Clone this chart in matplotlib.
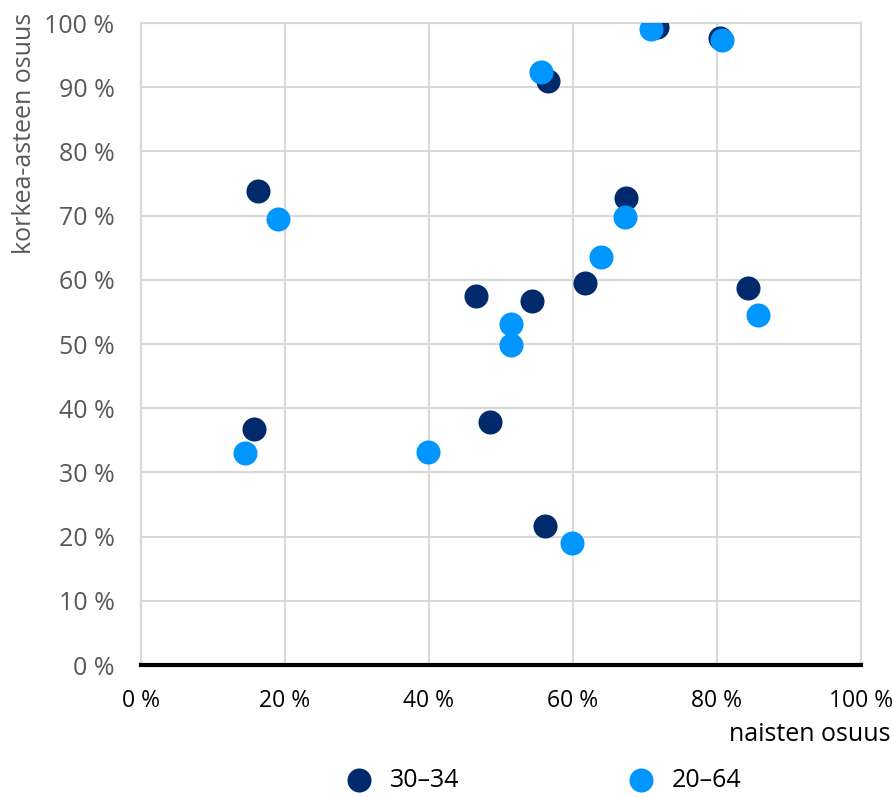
import matplotlib.pyplot as plt
from matplotlib.ticker import FuncFormatter

plt.rcParams['font.family'] = ['Open Sans', 'DejaVu Sans']

# 30-34 ikäiset
x_3034 = [16.3, 15.7, 46.5, 48.5, 54.3, 56.5, 56.1, 61.7, 67.4, 71.7, 80.4, 84.4]
y_3034 = [73.8, 36.8, 57.5, 37.9, 56.7, 91.0, 21.7, 59.5, 72.7, 99.4, 97.7, 58.7]

# 20-64 ikäiset
x_2064 = [14.4, 19.0, 39.9, 51.4, 51.4, 55.6, 59.9, 63.9, 67.2, 70.8, 80.7, 85.7]
y_2064 = [33.0, 69.5, 33.2, 53.1, 49.8, 92.4, 19.0, 63.6, 69.8, 99.1, 97.4, 54.5]

navy = '#002a6c'
blue = '#0096ff'
fs = 18

fig = plt.figure(figsize=(8.92, 7.97), dpi=100)
ax = fig.add_axes([0.158, 0.1656, 0.807, 0.8054])

ax.scatter(x_3034, y_3034, s=300, color=navy, label='30–34', zorder=3, linewidths=0)
ax.scatter(x_2064, y_2064, s=300, color=blue, label='20–64', zorder=4, linewidths=0)

ax.set_xlim(0, 100)
ax.set_ylim(0, 100)
ax.set_xticks(range(0, 101, 20))
ax.set_yticks(range(0, 101, 10))
pct = FuncFormatter(lambda v, p: f'{v:.0f} %')
ax.xaxis.set_major_formatter(pct)
ax.yaxis.set_major_formatter(pct)
ax.grid(True, color='#d9d9d9', linewidth=1.5, zorder=0)
ax.set_axisbelow(True)
for s in ['left', 'right', 'top']:
    ax.spines[s].set_color('#d9d9d9')
    ax.spines[s].set_linewidth(1.5)
ax.spines['bottom'].set_color('black')
ax.spines['bottom'].set_linewidth(3)
ax.spines['bottom'].set_zorder(5)
ax.tick_params(length=0)
ax.tick_params(axis='y', colors='#595959', pad=19, labelsize=fs)
ax.tick_params(axis='x', colors='black', pad=17, labelsize=16.5)

fig.text(0.028, 0.984, 'korkea-asteen osuus', rotation=90, ha='center', va='top',
         fontsize=fs, color='#595959')
fig.text(0.998, 0.078, 'naisten osuus', ha='right', va='center', fontsize=fs, color='black')

fig.legend(loc='center left', bbox_to_anchor=(0.389, 0.021), ncol=2, frameon=False,
           fontsize=fs, markerscale=1.0, handlelength=1, handletextpad=0.7,
           columnspacing=6.8, borderaxespad=0, borderpad=0)

fig.savefig('out.png', dpi=100)
